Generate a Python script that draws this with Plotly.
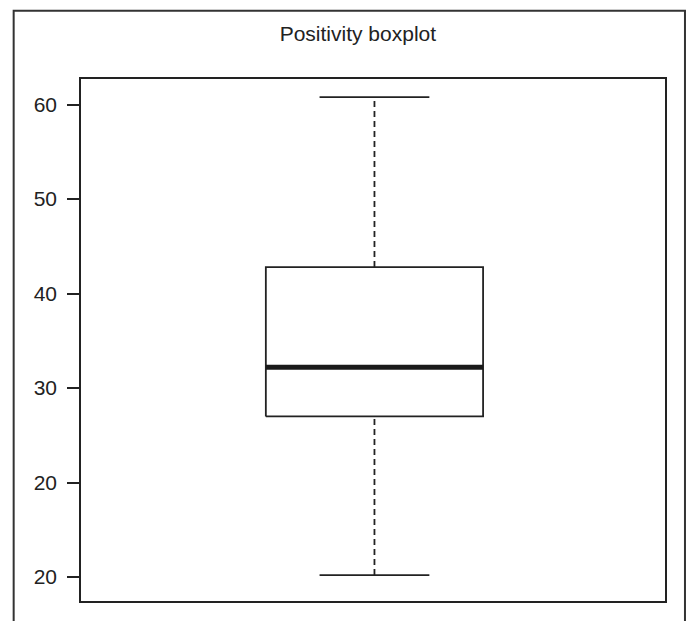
import plotly.graph_objects as go

# Data
title_text = "Positivity boxplot"
lower_whisker = [10.2]
q1 = [27.0]
median = [32.2]
q3 = [42.8]
upper_whisker = [60.8]
tick_vals = [60, 50, 40, 30, 20, 10]
tick_text = ["60", "50", "40", "30", "20", "20"]

ink = "#222222"
center = 0.005
box_hw = 0.372
cap_hw = 0.188
y_range = [7.46, 62.71]

# the page body has an 8px margin, so the figure starts at (8, 8)
W, H = 686, 613

fig = go.Figure()

for lo, a, m, b, hi in zip(lower_whisker, q1, median, q3, upper_whisker):
    # box
    fig.add_trace(go.Scatter(
        x=[center - box_hw, center + box_hw, center + box_hw, center - box_hw, center - box_hw],
        y=[a, a, b, b, a], mode="lines",
        line=dict(color=ink, width=1.8), hoverinfo="skip", showlegend=False))
    # median
    fig.add_trace(go.Scatter(
        x=[center - box_hw, center + box_hw], y=[m, m], mode="lines",
        line=dict(color="#1a1a1a", width=5), hoverinfo="skip", showlegend=False))
    # whiskers (dashed)
    fig.add_trace(go.Scatter(
        x=[center, center], y=[b, hi], mode="lines",
        line=dict(color=ink, width=1.8, dash="6px,4px"), hoverinfo="skip", showlegend=False))
    fig.add_trace(go.Scatter(
        x=[center, center], y=[lo, a], mode="lines",
        line=dict(color=ink, width=1.8, dash="6px,4px"), hoverinfo="skip", showlegend=False))
    # caps
    fig.add_trace(go.Scatter(
        x=[center - cap_hw, center + cap_hw], y=[hi, hi], mode="lines",
        line=dict(color=ink, width=1.8), hoverinfo="skip", showlegend=False))
    fig.add_trace(go.Scatter(
        x=[center - cap_hw, center + cap_hw], y=[lo, lo], mode="lines",
        line=dict(color=ink, width=1.8), hoverinfo="skip", showlegend=False))

fig.update_layout(
    width=W, height=H,
    margin=dict(l=72.7, r=28.7, t=70.7, b=19.7),
    paper_bgcolor="white", plot_bgcolor="white",
    font=dict(family="Liberation Sans, Arial, sans-serif", color=ink),
    title=dict(text=title_text, x=349.9 / W, xanchor="center",
               y=1 - 26 / H, yanchor="middle", yref="container",
               font=dict(size=21, color=ink)),
    showlegend=False,
    xaxis=dict(range=[-1, 1], showgrid=False, zeroline=False,
               showticklabels=False, ticks="", showline=True, mirror=True,
               linecolor=ink, linewidth=1.8, fixedrange=True),
    yaxis=dict(range=y_range, tickmode="array", tickvals=tick_vals,
               ticktext=[t + "\u00a0" for t in tick_text],
               ticks="outside", ticklen=12, tickwidth=1.5,
               tickcolor=ink, showgrid=False, zeroline=False, showline=True,
               mirror=True, linecolor=ink, linewidth=1.8,
               tickfont=dict(size=21, color=ink), fixedrange=True),
)

# outer frame (open at the bottom, beyond the image)
fig.add_shape(type="rect", xref="paper", yref="paper",
              x0=-0.1153, x1=1.0342, y0=-0.2, y1=1.1309,
              line=dict(color="#333333", width=2), layer="below")

fig.write_html("out.html", config={"displayModeBar": False})
